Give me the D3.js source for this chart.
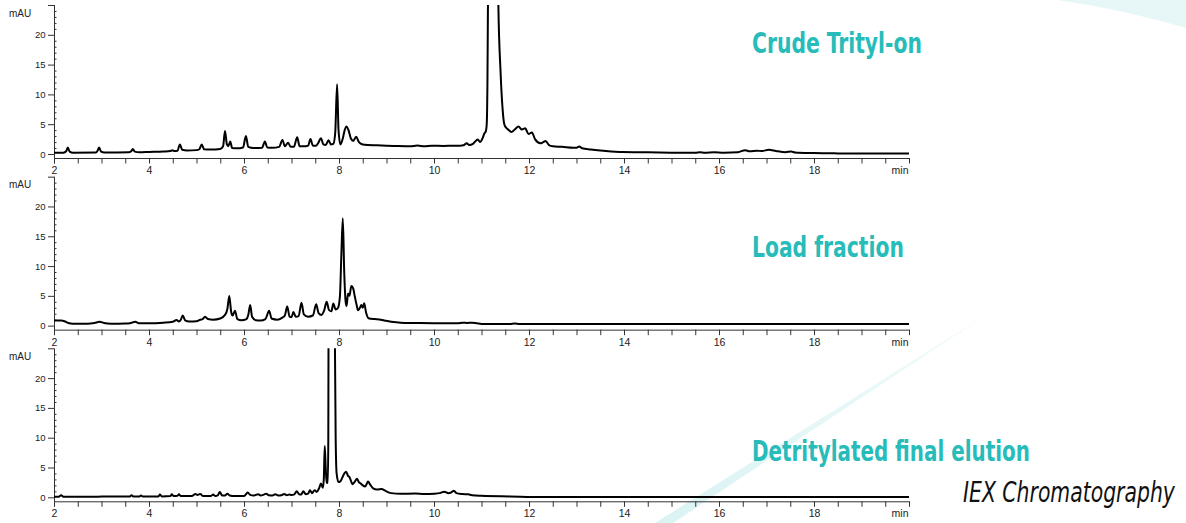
<!DOCTYPE html>
<html><head><meta charset="utf-8">
<script src="https://cdn.jsdelivr.net/npm/d3@7"></script>
<style>body{margin:0;background:#fff} svg{display:block}</style>
</head><body><svg id="c" width="1186" height="523"></svg>
<script>
// ---- data (time in min, absorbance in mAU) ----
const panelTitles = ["Crude Trityl-on", "Load fraction", "Detritylated final elution"];
const xLabelTicks = [2, 4, 6, 8, 10, 12, 14, 16, 18];
const yLabelTicks = [0, 5, 10, 15, 20];
const xUnit = "min";
const yUnit = "mAU";
const footnote = "IEX Chromatography";

const crudeTrace = [[2.00,0.20],[2.20,0.22],[2.26,0.5],[2.29,1.1],[2.33,0.4],[2.40,0.22],
[2.88,0.25],[2.92,0.6],[2.95,1.1],[2.99,0.4],[3.06,0.25],[3.58,0.3],[3.63,0.5],[3.66,0.85],[3.70,0.4],[3.8,0.3],
[4.0,0.35],[4.3,0.42],[4.45,0.5],[4.49,0.65],[4.53,0.5],[4.6,0.55],[4.65,1.6],[4.70,0.7],[4.8,0.6],
[5.0,0.65],[5.06,0.8],[5.11,1.6],[5.16,0.8],[5.3,0.75],[5.5,0.85],[5.56,1.3],[5.60,3.85],[5.64,1.6],[5.67,1.3],[5.71,2.1],[5.75,1.0],[5.85,0.95],
[5.98,1.1],[6.04,3.0],[6.09,1.2],[6.2,1.0],[6.38,1.05],[6.44,2.1],[6.49,1.1],[6.6,1.05],[6.74,1.2],[6.81,2.35],[6.86,1.3],[6.93,1.9],[6.98,1.2],
[7.05,1.2],[7.12,2.8],[7.17,1.3],[7.3,1.3],[7.35,1.4],[7.40,2.5],[7.45,1.4],[7.52,1.4],[7.56,1.8],[7.62,2.65],[7.67,1.6],[7.72,1.5],[7.78,2.3],[7.83,1.6],
[7.88,1.7],[7.92,3.5],[7.96,11.7],[7.99,4.0],[8.03,1.6],[8.08,2.6],[8.12,4.0],[8.16,4.6],[8.20,4.0],[8.25,2.6],[8.30,2.2],[8.36,2.9],[8.42,2.0],[8.5,1.6],
[8.6,1.5],[8.8,1.45],[9.0,1.4],[9.2,1.35],[9.5,1.3],[9.65,1.42],[9.8,1.3],[9.95,1.38],[10.2,1.35],[10.4,1.4],[10.55,1.4],[10.62,1.45],[10.69,1.8],[10.74,1.5],
[10.82,1.7],[10.88,2.2],[10.92,2.45],[10.97,2.0],[11.02,2.6],[11.06,3.45],[11.09,3.8],[11.11,5],[11.125,12],[11.14,30],[11.2,55],[11.26,58],[11.33,40],
[11.355,25],[11.40,14],[11.44,8],[11.48,5.0],[11.52,4.4],[11.56,4.1],[11.63,3.7],[11.7,4.1],[11.78,4.6],[11.85,4.1],[11.92,4.3],[11.99,3.35],[12.06,3.6],
[12.13,2.45],[12.24,1.8],[12.30,2.0],[12.35,2.2],[12.42,1.5],[12.5,1.3],[12.7,1.2],[12.93,1.05],[13.0,1.05],[13.06,1.25],[13.12,0.95],[13.3,0.75],
[13.62,0.5],[13.97,0.33],[14.5,0.28],[15.0,0.22],[15.5,0.2],[15.6,0.3],[15.7,0.22],[15.9,0.3],[16.1,0.22],[16.4,0.3],[16.55,0.65],[16.65,0.45],
[16.8,0.55],[16.9,0.5],[17.05,0.72],[17.2,0.5],[17.4,0.3],[17.52,0.42],[17.6,0.25],[18.0,0.15],[18.5,0.1],[19.0,0.08],[20.0,0.08]];

const loadTrace = [[2.0,0.85],[2.15,0.85],[2.22,0.75],[2.3,0.45],[2.4,0.32],[2.7,0.33],[2.85,0.45],[2.96,0.65],[3.05,0.45],[3.2,0.32],[3.5,0.35],
[3.62,0.45],[3.71,0.65],[3.8,0.4],[4.0,0.4],[4.3,0.5],[4.5,0.65],[4.58,0.95],[4.63,0.7],[4.67,1.0],[4.71,1.7],[4.76,0.9],[4.85,0.7],[5.0,0.75],
[5.08,1.0],[5.13,1.1],[5.18,1.5],[5.24,1.1],[5.35,1.0],[5.5,1.2],[5.6,1.8],[5.65,2.8],[5.69,4.97],[5.73,2.3],[5.76,1.7],[5.81,2.5],[5.86,1.1],
[5.95,0.9],[6.05,1.1],[6.09,1.8],[6.13,3.45],[6.17,1.5],[6.25,0.9],[6.35,0.85],[6.45,1.1],[6.53,2.5],[6.58,1.2],[6.7,1.0],[6.8,1.3],[6.86,1.7],
[6.91,3.2],[6.96,1.5],[7.0,1.4],[7.04,2.3],[7.09,1.5],[7.15,1.6],[7.21,3.85],[7.26,1.9],[7.35,1.5],[7.45,1.7],[7.52,3.6],[7.57,2.1],[7.63,1.8],
[7.69,2.6],[7.74,4.0],[7.79,2.6],[7.84,2.4],[7.88,3.7],[7.93,2.7],[7.98,3.0],[8.02,5],[8.05,12],[8.08,18.0],[8.11,9],[8.14,4],[8.16,3.3],[8.19,5.4],
[8.22,5.0],[8.26,6.65],[8.30,6.2],[8.33,5.0],[8.37,3.5],[8.40,2.6],[8.44,3.0],[8.47,3.45],[8.50,3.0],[8.53,3.75],[8.57,2.2],[8.62,1.25],[8.75,1.1],
[8.85,1.05],[8.95,0.85],[9.1,0.65],[9.3,0.5],[9.6,0.45],[10.0,0.42],[10.3,0.42],[10.5,0.4],[10.6,0.5],[10.7,0.45],[10.8,0.5],[10.9,0.4],[11.0,0.28],
[11.6,0.28],[11.7,0.35],[11.8,0.28],[20.0,0.28]];

const detritTrace = [[2.0,0.1],[2.1,0.1],[2.15,0.35],[2.2,0.1],[2.8,0.1],[3.0,0.12],[3.6,0.15],[3.63,0.35],[3.68,0.12],[3.8,0.15],[3.83,0.3],[3.87,0.12],
[4.2,0.15],[4.23,0.45],[4.27,0.15],[4.45,0.2],[4.48,0.5],[4.52,0.2],[4.6,0.25],[4.63,0.5],[4.67,0.2],[4.9,0.2],[4.98,0.55],[5.02,0.4],[5.08,0.55],
[5.14,0.2],[5.3,0.2],[5.35,0.45],[5.4,0.2],[5.45,0.35],[5.49,0.9],[5.54,0.3],[5.6,0.3],[5.65,0.6],[5.7,0.3],[5.8,0.2],[6.0,0.2],[6.04,0.5],[6.08,0.8],
[6.13,0.4],[6.2,0.3],[6.3,0.5],[6.35,0.3],[6.42,0.45],[6.47,0.6],[6.52,0.35],[6.6,0.3],[6.66,0.5],[6.72,0.3],[6.8,0.4],[6.85,0.55],[6.9,0.35],
[6.95,0.45],[7.0,0.4],[7.06,0.5],[7.11,1.0],[7.16,0.5],[7.2,0.45],[7.25,1.0],[7.3,0.5],[7.35,0.6],[7.39,1.2],[7.43,0.7],[7.49,1.2],[7.53,0.9],
[7.58,1.5],[7.62,2.3],[7.66,1.6],[7.68,3],[7.70,8.6],[7.72,5],[7.74,2.45],[7.765,2.4],[7.775,10],[7.78,30],[7.84,60],[7.905,40],[7.915,25],
[7.93,10],[7.95,4.0],[7.99,2.55],[8.03,2.7],[8.08,3.5],[8.12,4.1],[8.15,4.3],[8.19,3.6],[8.22,3.4],[8.25,2.8],[8.28,2.2],[8.33,2.6],[8.38,3.1],
[8.42,2.5],[8.46,2.3],[8.5,2.0],[8.55,1.8],[8.58,2.2],[8.61,2.65],[8.66,2.1],[8.72,1.5],[8.8,1.3],[8.9,1.4],[8.95,1.2],[9.1,0.7],[9.3,0.6],
[9.6,0.62],[9.8,0.55],[10.0,0.6],[10.12,0.7],[10.22,0.95],[10.3,0.7],[10.35,0.75],[10.42,1.1],[10.47,0.7],[10.6,0.55],[10.72,0.5],[10.8,0.35],
[11.0,0.25],[11.6,0.15],[12.3,0.05],[20.0,0.05]];

const traces = [crudeTrace, loadTrace, detritTrace];

// ---- drawing ----
const svg = d3.select("#c");
const teal = "#27bcba";
const axisColor = "#333";
const font = "'Liberation Sans', Arial, Helvetica, sans-serif";
const condFont = "'Liberation Sans Narrow','DejaVu Sans Condensed','Liberation Sans',sans-serif";

// background decorations
const defs = svg.append("defs");
const grad = defs.append("linearGradient").attr("id","wedgeGrad")
  .attr("x1","0").attr("y1","1").attr("x2","1").attr("y2","0");
grad.append("stop").attr("offset","0").attr("stop-color","#daf3f3");
grad.append("stop").attr("offset","1").attr("stop-color","#f1fbfb");
svg.append("path").attr("d","M1058,0 Q1125,10 1186,28 L1186,0 Z").attr("fill","#e7f7f7");
svg.append("path").attr("d","M655,523 L673,523 L992,311 Z").attr("fill","url(#wedgeGrad)");

const x = d3.scaleLinear().domain([2, 20]).range([54, 909]);
const minorX = d3.range(2, 20.001, 0.5);
const pxPerMAU = 5.96;
const line = d3.line().curve(d3.curveMonotoneX);

traces.forEach((trace, i) => {
  const y0 = 154 + i * 171.65;
  const y = d3.scaleLinear().domain([0, 25]).range([y0, y0 - 25 * pxPerMAU]);
  const axisY = y0 + 4;
  const g = svg.append("g");

  defs.append("clipPath").attr("id", "clip" + i)
    .append("rect").attr("x", 54).attr("y", y(25)).attr("width", 856).attr("height", y0 - y(25) + 6);

  // x axis
  const xa = d3.axisBottom(x).tickValues(minorX).tickSize(5.5).tickSizeOuter(0).tickPadding(3.2)
    .tickFormat(d => xLabelTicks.includes(d) ? d : "");
  const gx = g.append("g").attr("transform", `translate(0,${axisY})`).call(xa);
  gx.select(".domain").attr("stroke", axisColor).attr("d", `M${x(2)},0.5H${x(20)+0.5}`);
  gx.selectAll(".tick line").attr("stroke", axisColor);
  gx.selectAll("text").attr("font-family", font).attr("font-size", 10.5).attr("fill", "#222");
  g.append("text").attr("x", 908.5).attr("y", axisY + 16).attr("text-anchor", "end")
    .attr("font-family", font).attr("font-size", 10.5).attr("fill", "#222").text(xUnit);

  // y axis
  const ya = d3.axisLeft(y).tickValues(yLabelTicks.concat([25])).tickSize(6).tickPadding(2.5)
    .tickFormat(d => yLabelTicks.includes(d) ? d : "");
  const gy = g.append("g").attr("transform", "translate(54,0)").call(ya);
  gy.select(".domain").remove();
  gy.selectAll(".tick line").attr("stroke", axisColor);
  gy.selectAll("text").attr("font-family", font).attr("font-size", 9.5).attr("fill", "#222");
  const minorY = d3.range(1, 25).filter(v => v % 5 !== 0);
  const gym = g.append("g").attr("transform", "translate(54,0)")
    .call(d3.axisRight(y).tickValues(minorY).tickSize(2.5).tickFormat(""));
  gym.select(".domain").remove();
  gym.selectAll(".tick line").attr("stroke", axisColor);
  g.append("line").attr("x1", 54.5).attr("x2", 54.5).attr("y1", y(25)).attr("y2", axisY + 5.5)
    .attr("stroke", axisColor);
  g.append("text").attr("x", 9).attr("y", y0 - 141 + 3.5).attr("font-family", font)
    .attr("font-size", 10).attr("fill", "#222").text(yUnit);

  // trace
  line.x(d => x(d[0])).y(d => y(d[1]));
  g.append("path").attr("clip-path", `url(#clip${i})`).attr("d", line(trace))
    .attr("fill", "none").attr("stroke", "#000").attr("stroke-width", 2).attr("stroke-linejoin", "round");
});

// fitted text: scaled horizontally to the width seen in the reference
function fittedText(str, px, py, width, size, opts) {
  const t = svg.append("text").attr("x", 0).attr("y", 0)
    .attr("font-family", condFont).attr("font-size", size).attr("fill", opts.fill)
    .attr("font-weight", opts.weight || "normal").attr("font-style", opts.style || "normal").text(str);
  const natural = t.node().getComputedTextLength();
  const sx = width / natural;
  t.attr("transform", `translate(${px},${py}) scale(${sx},1)`);
}
const titleY = [53, 257.3, 460.7];
const titleW = [170, 152, 278];
panelTitles.forEach((t, i) => fittedText(t, 752, titleY[i], titleW[i], 28.5, {fill: teal, weight: "bold"}));
fittedText(footnote, 963, 501.7, 212, 28, {fill: "#111", style: "italic"});
</script></body></html>
